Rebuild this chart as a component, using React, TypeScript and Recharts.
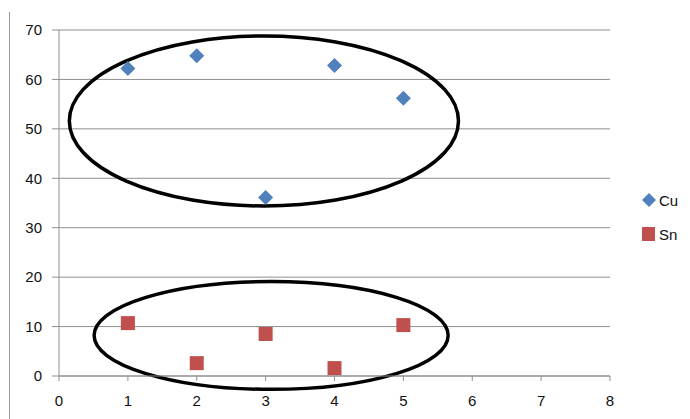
import React from 'react'
import {
  ScatterChart,
  Scatter,
  XAxis,
  YAxis,
  CartesianGrid,
  ReferenceArea,
  Legend,
} from 'recharts'

const xValues = [1, 2, 3, 4, 5]
const cuValues = [62.2, 64.8, 36.1, 62.8, 56.2]
const snValues = [10.7, 2.6, 8.5, 1.6, 10.3]
const xTicks = [0, 1, 2, 3, 4, 5, 6, 7, 8]
const yTicks = [0, 10, 20, 30, 40, 50, 60, 70]

// ellipses drawn around each group, in data units
const cuEllipse = { x1: 0.15, x2: 5.8, y1: 34.4, y2: 68.8 }
const snEllipse = { x1: 0.51, x2: 5.65, y1: -2.7, y2: 19.1 }

const cuData = xValues.map((x, i) => ({ x, y: cuValues[i] }))
const snData = xValues.map((x, i) => ({ x, y: snValues[i] }))

const CU = '#4F81BD'
const SN = '#C0504D'
const GRID = '#8f8f8f'
const TEXT = '#111'
const FONT = '"Liberation Sans", Arial, sans-serif'

if (typeof document !== 'undefined') document.body.style.margin = '0'

const Diamond = (p: any) => {
  const { cx, cy } = p
  const r = 7.5
  return (
    <polygon
      points={`${cx},${cy - r} ${cx + r},${cy} ${cx},${cy + r} ${cx - r},${cy}`}
      fill={CU}
    />
  )
}

const Square = (p: any) => (
  <rect x={p.cx - 7} y={p.cy - 7} width={14} height={14} fill={SN} />
)

const Ellipse = (p: any) => (
  <ellipse
    cx={p.x + p.width / 2}
    cy={p.y + p.height / 2}
    rx={p.width / 2}
    ry={p.height / 2}
    fill="none"
    stroke="#000"
    strokeWidth={3.5}
  />
)

const LegendBox = () => (
  <div style={{ fontFamily: FONT, fontSize: 15, color: TEXT }}>
    <div style={{ display: 'flex', alignItems: 'center', height: 20 }}>
      <svg width={16} height={16}>
        <polygon points="8,1 15,8 8,15 1,8" fill={CU} />
      </svg>
      <span style={{ marginLeft: 2 }}>Cu</span>
    </div>
    <div style={{ display: 'flex', alignItems: 'center', height: 20, marginTop: 14 }}>
      <svg width={16} height={16}>
        <rect x={1} y={1} width={13} height={14} fill={SN} />
      </svg>
      <span style={{ marginLeft: 2 }}>Sn</span>
    </div>
  </div>
)

export default function App() {
  return (
    <div style={{ position: 'relative', width: 690, height: 419, background: '#fff' }}>
      <div
        style={{
          position: 'absolute',
          left: 9,
          top: 12,
          bottom: 0,
          width: 1,
          background: '#9a9a9a',
        }}
      />
      <ScatterChart
        width={690}
        height={419}
        margin={{ top: 30, right: 80, bottom: 12, left: 0 }}
      >
        <CartesianGrid vertical={false} stroke={GRID} />
        <XAxis
          type="number"
          dataKey="x"
          domain={[0, 8]}
          ticks={xTicks}
          height={31}
          stroke={GRID}
          tickSize={5}
          tickMargin={14}
          tick={{ fill: TEXT, fontSize: 15, fontFamily: FONT }}
        />
        <YAxis
          type="number"
          dataKey="y"
          domain={[0, 70]}
          ticks={yTicks}
          width={59}
          stroke={GRID}
          tickSize={7}
          tickMargin={10}
          tick={{ fill: TEXT, fontSize: 15, fontFamily: FONT }}
        />
        <Legend
          layout="vertical"
          align="center"
          verticalAlign="middle"
          content={<LegendBox />}
          wrapperStyle={{ left: 641, top: 190, width: 49 }}
        />
        <Scatter name="Cu" data={cuData} fill={CU} shape={Diamond} isAnimationActive={false} />
        <Scatter name="Sn" data={snData} fill={SN} shape={Square} isAnimationActive={false} />
        <ReferenceArea {...cuEllipse} ifOverflow="visible" shape={Ellipse} />
        <ReferenceArea {...snEllipse} ifOverflow="visible" shape={Ellipse} />
      </ScatterChart>
    </div>
  )
}
